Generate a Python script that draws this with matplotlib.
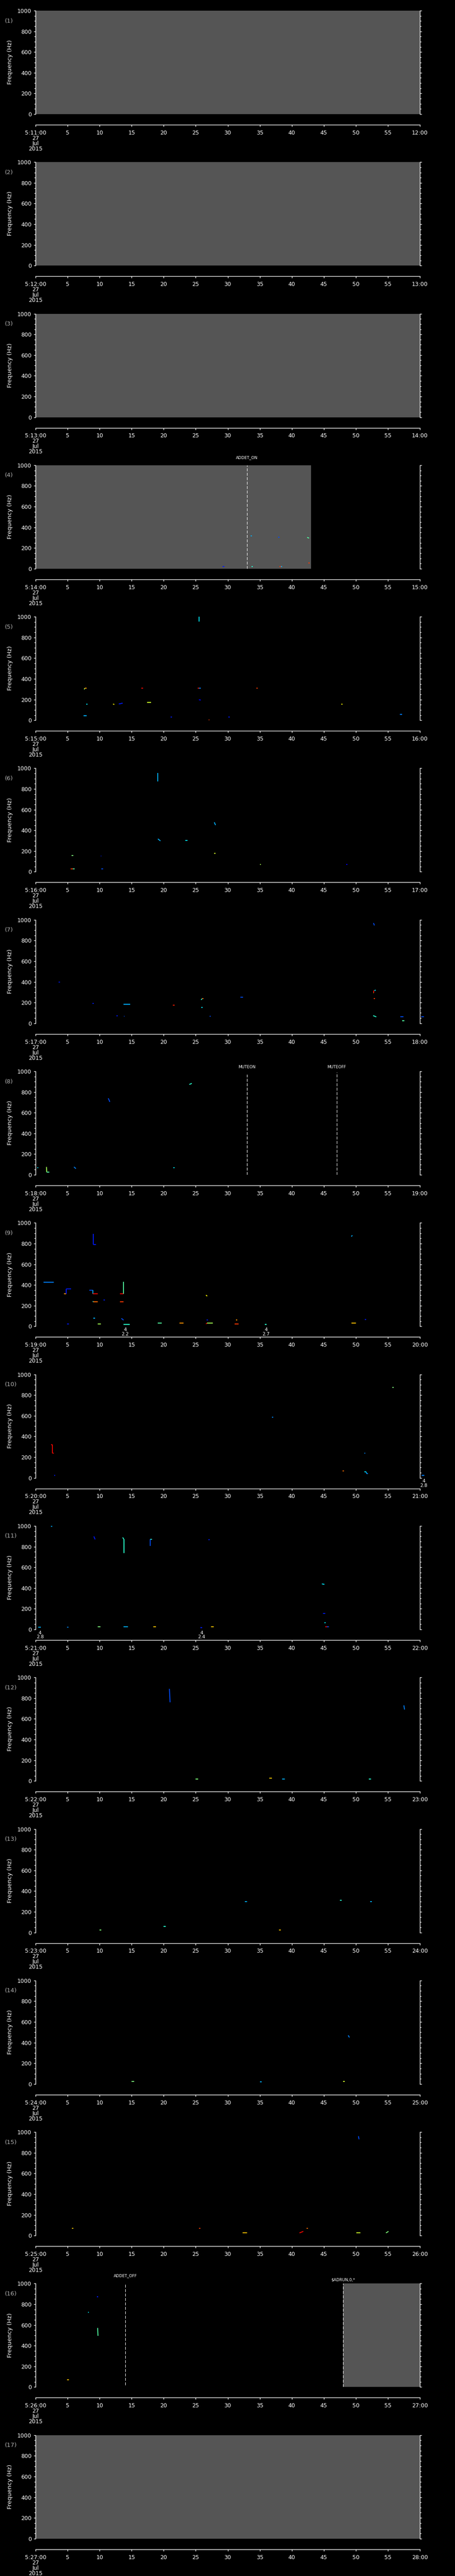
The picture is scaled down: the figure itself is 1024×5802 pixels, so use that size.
import matplotlib
matplotlib.use('Agg')
import matplotlib.pyplot as plt
from matplotlib.ticker import MultipleLocator
import numpy as np

plt.rcParams['font.family'] = ['DejaVu Sans']

# ---- data ----
n_panels = 17
start_minute = 11          # panel 1 starts at 5:11:00, one minute per panel
gray_color = '#555555'

# no-data (gray) intervals in seconds, per panel
gray_spans = {1: [(0, 60)], 2: [(0, 60)], 3: [(0, 60)], 4: [(0, 43)],
              16: [(48, 60)], 17: [(0, 60)]}

# event markers
event_panel = [4, 8, 8, 16, 16]
event_time = [33.0, 33.0, 47.0, 14.0, 48.0]
event_label = ['ADDET_ON', 'MUTEON', 'MUTEOFF', 'ADDET_OFF', '$ADRUN,0,*']
event_label_f = [1076, 1039, 1039, 1075, 1036]
event_line_top = [1000, 970, 990, 1000, 1000]
event_line_bot = [0, 0, 0, 20, 0]

# small numeric annotations below the plot
note_panel = [9, 9, 10, 11, 11]
note_time = [14.0, 36.0, 60.6, 0.7, 25.9]
note_text = ['4\n2.2', '4\n2.7', '4\n2.8', '4\n2.8', '4\n2.4']

# tracks: (t0, f0, t1, f1, colour value on jet)
tracks_04 = [(29.2, 23, 29.5, 23, 0.15), (33.6, 318, 33.8, 318, 0.3),
             (33.7, 23, 33.9, 23, 0.4), (37.9, 303, 38.1, 303, 0.2),
             (38.1, 23, 38.3, 23, 0.85), (38.3, 23, 38.5, 23, 0.3),
             (42.4, 303, 42.7, 295, 0.45), (42.6, 57, 42.8, 57, 0.85)]
tracks_05 = [(25.5, 1000, 25.5, 955, 0.35), (7.6, 298, 7.7, 310, 0.55),
             (7.7, 310, 8.0, 310, 0.75), (16.5, 310, 16.8, 310, 0.9),
             (25.3, 310, 25.5, 310, 0.88), (25.5, 310, 25.8, 310, 0.25),
             (34.5, 310, 34.7, 310, 0.85), (7.9, 157, 8.1, 157, 0.35),
             (12.1, 157, 12.3, 152, 0.65), (13.0, 157, 13.6, 165, 0.15),
             (17.4, 174, 18.0, 174, 0.6), (25.5, 198, 25.8, 195, 0.12),
             (47.7, 157, 47.9, 157, 0.65), (7.5, 42, 8.0, 42, 0.3),
             (21.1, 29, 21.3, 29, 0.15), (30.1, 29, 30.3, 29, 0.15),
             (27.0, 2, 27.2, 2, 0.85), (56.9, 57, 57.2, 57, 0.25)]
tracks_06 = [(19.1, 955, 19.1, 873, 0.3), (19.1, 318, 19.5, 298, 0.3),
             (23.4, 303, 23.7, 303, 0.35), (27.9, 478, 28.1, 451, 0.3),
             (27.9, 176, 28.1, 176, 0.6), (5.6, 155, 5.9, 155, 0.5),
             (10.2, 154, 10.3, 154, 0.15), (5.5, 27, 5.8, 27, 0.85),
             (5.8, 27, 6.1, 27, 0.45), (10.25, 27, 10.55, 27, 0.2),
             (35.0, 70, 35.2, 70, 0.55), (48.5, 70, 48.7, 70, 0.12)]
tracks_07 = [(3.6, 396, 3.8, 396, 0.15), (8.85, 194, 9.1, 194, 0.15),
             (13.75, 182, 14.8, 182, 0.3), (21.4, 177, 21.7, 177, 0.88),
             (25.85, 226, 26.0, 238, 0.4), (26.0, 238, 26.25, 238, 0.8),
             (25.9, 152, 26.1, 152, 0.35), (31.95, 253, 32.4, 253, 0.2),
             (12.6, 74, 12.8, 74, 0.15), (13.8, 66, 13.9, 66, 0.2),
             (27.2, 66, 27.35, 66, 0.2), (52.75, 969, 52.9, 946, 0.2),
             (52.7, 295, 52.8, 295, 0.65), (52.8, 295, 52.8, 315, 0.9),
             (52.9, 315, 53.1, 322, 0.35), (52.8, 238, 53.0, 238, 0.85),
             (52.7, 74, 53.2, 62, 0.4), (56.95, 62, 57.45, 62, 0.2),
             (57.2, 23, 57.6, 23, 0.45), (60.2, 62, 60.6, 62, 0.2)]
tracks_08 = [(0.3, 69, 0.45, 69, 0.35), (1.7, 76, 1.75, 26, 0.55),
             (1.75, 26, 2.15, 26, 0.45), (6.0, 76, 6.3, 60, 0.25),
             (11.35, 740, 11.6, 705, 0.2), (21.5, 69, 21.7, 69, 0.35),
             (24.0, 873, 24.4, 884, 0.4)]
tracks_09 = [(1.25, 425, 2.85, 425, 0.25), (4.45, 313, 4.8, 313, 0.75),
             (4.8, 313, 4.8, 364, 0.15), (4.8, 364, 5.55, 364, 0.15),
             (8.4, 350, 8.95, 350, 0.2), (8.95, 350, 8.95, 313, 0.3),
             (8.95, 313, 9.7, 313, 0.9), (8.95, 243, 9.0, 236, 0.4),
             (9.0, 236, 9.7, 236, 0.8), (9.0, 894, 9.0, 790, 0.15),
             (9.0, 790, 9.4, 790, 0.15), (10.6, 255, 10.8, 255, 0.15),
             (13.16, 236, 13.75, 236, 0.85), (13.16, 313, 13.75, 313, 0.9),
             (13.75, 313, 13.75, 432, 0.45), (9.0, 77, 9.3, 77, 0.3),
             (13.4, 77, 13.75, 60, 0.2), (4.9, 24, 5.2, 24, 0.15),
             (9.7, 24, 10.2, 24, 0.55), (13.7, 20, 14.7, 20, 0.4),
             (19.1, 31, 19.7, 31, 0.45), (22.5, 31, 23.1, 31, 0.75),
             (26.6, 24, 26.8, 31, 0.9), (26.8, 31, 27.7, 31, 0.55),
             (26.6, 302, 26.8, 292, 0.65), (26.7, 60, 26.9, 60, 0.15),
             (31.1, 24, 31.7, 24, 0.85), (31.3, 60, 31.5, 60, 0.75),
             (35.8, 20, 36.1, 20, 0.4), (49.3, 31, 50.0, 31, 0.7),
             (49.3, 868, 49.45, 880, 0.3), (51.4, 68, 51.6, 68, 0.15)]
tracks_10 = [(2.4, 319, 2.65, 319, 0.9), (2.65, 319, 2.65, 237, 0.9),
             (2.65, 237, 2.85, 237, 0.9), (2.9, 23, 3.05, 23, 0.15),
             (36.9, 588, 37.1, 588, 0.25), (47.95, 66, 48.15, 66, 0.8),
             (51.3, 58, 51.6, 58, 0.35), (51.6, 58, 51.7, 41, 0.3),
             (51.7, 41, 51.9, 41, 0.25), (51.3, 237, 51.5, 237, 0.25),
             (55.7, 872, 55.9, 872, 0.5), (60.3, 23, 60.7, 23, 0.25)]
tracks_11 = [(2.4, 998, 2.6, 995, 0.3), (9.1, 899, 9.3, 870, 0.15),
             (13.6, 889, 13.8, 870, 0.4), (13.8, 870, 13.8, 738, 0.4),
             (17.9, 870, 18.2, 870, 0.4), (17.9, 870, 17.9, 805, 0.2),
             (27.0, 868, 27.2, 868, 0.15), (44.7, 440, 45.1, 435, 0.35),
             (44.9, 156, 45.2, 156, 0.15), (45.1, 62, 45.3, 62, 0.35),
             (45.2, 24, 45.5, 24, 0.9), (45.5, 24, 45.8, 24, 0.2),
             (0.4, 20, 0.8, 20, 0.3), (4.9, 20, 5.1, 20, 0.25),
             (9.7, 24, 10.1, 24, 0.5), (13.7, 24, 14.4, 24, 0.3),
             (18.4, 24, 18.8, 24, 0.7), (25.7, 15, 26.0, 15, 0.15),
             (27.4, 24, 27.8, 24, 0.7)]
tracks_12 = [(20.9, 890, 21.0, 760, 0.2), (57.5, 730, 57.6, 690, 0.25),
             (25.0, 20, 25.4, 20, 0.5), (36.5, 25, 36.9, 25, 0.7),
             (38.5, 20, 38.9, 20, 0.3), (52.0, 20, 52.4, 20, 0.4)]
tracks_13 = [(32.7, 300, 33.0, 300, 0.3), (47.5, 310, 47.8, 310, 0.4),
             (52.2, 300, 52.5, 300, 0.3), (10.0, 25, 10.3, 25, 0.5),
             (20.0, 60, 20.3, 60, 0.4), (38.0, 25, 38.3, 25, 0.7)]
tracks_14 = [(48.8, 470, 49.0, 450, 0.25), (15.0, 25, 15.4, 25, 0.5),
             (35.0, 20, 35.3, 20, 0.3), (48.0, 25, 48.3, 25, 0.6)]
tracks_15 = [(5.7, 68, 5.9, 68, 0.7), (25.5, 68, 25.7, 68, 0.85),
             (32.3, 25, 33.0, 25, 0.7), (41.2, 25, 41.8, 40, 0.9),
             (42.3, 68, 42.5, 68, 0.8), (50.1, 25, 50.7, 25, 0.6),
             (54.7, 25, 55.1, 40, 0.5), (50.4, 960, 50.5, 930, 0.2)]
tracks_16 = [(9.6, 872, 9.8, 872, 0.15), (8.2, 722, 8.35, 722, 0.35),
             (9.7, 571, 9.75, 495, 0.45), (4.95, 69, 5.2, 69, 0.7)]

tracks = {4: tracks_04, 5: tracks_05, 6: tracks_06, 7: tracks_07,
          8: tracks_08, 9: tracks_09, 10: tracks_10, 11: tracks_11,
          12: tracks_12, 13: tracks_13, 14: tracks_14, 15: tracks_15,
          16: tracks_16}

# ---- layout (pixels) ----
W, H = 1024, 5802
panel_h = H / n_panels
plot_top, plot_h = 24, 233
plot_left, plot_w = 80, 865

fig = plt.figure(figsize=(W / 100, H / 100), dpi=100, facecolor='black')
cmap = plt.get_cmap('jet')

for k in range(n_panels):
    p = k + 1
    top = k * panel_h + plot_top
    ax = fig.add_axes([plot_left / W, 1 - (top + plot_h) / H, plot_w / W, plot_h / H])
    ax.set_facecolor('black')
    ax.set_xlim(0, 60)
    ax.set_ylim(0, 1000)

    for t0, t1 in gray_spans.get(p, []):
        ax.axvspan(t0, t1, color=gray_color, lw=0, zorder=0)

    for t0, f0, t1, f1, c in tracks.get(p, []):
        ax.plot([t0, t1], [f0, f1], color=cmap(c), lw=1.4,
                solid_capstyle='butt', zorder=2, clip_on=(t1 <= 60))

    for ep, et, el, ef, etop, ebot in zip(event_panel, event_time, event_label,
                                           event_label_f, event_line_top, event_line_bot):
        if ep != p:
            continue
        ax.plot([et, et], [ebot, etop], color='white', lw=0.8,
                dashes=(6, 3), zorder=3)
        ax.text(et, ef, el, color='white', fontsize=6.5, ha='center',
                va='center', clip_on=False)

    for npn, nt, ntx in zip(note_panel, note_time, note_text):
        if npn == p:
            ax.text(nt, -12, ntx, color='white', fontsize=7.5, ha='center',
                    va='top', linespacing=0.95, clip_on=False)

    # spines
    ax.spines['top'].set_visible(False)
    for s in ['left', 'right', 'bottom']:
        ax.spines[s].set_color('white')
        ax.spines[s].set_linewidth(1.0)
    ax.spines['bottom'].set_position(('outward', 17.3))

    ax.yaxis.set_major_locator(MultipleLocator(200))
    ax.yaxis.set_minor_locator(MultipleLocator(50))
    ax.tick_params(axis='y', which='both', left=True, right=True, direction='out',
                   colors='white', labelsize=9, pad=3.6, width=1.0)
    ax.tick_params(axis='y', which='major', length=3)
    ax.tick_params(axis='y', which='minor', length=2)

    minute = start_minute + k
    xt = np.arange(0, 61, 5)
    xl = ['5:%02d:00\n27\nJul\n2015' % minute] + [str(v) for v in xt[1:-1]] + ['%02d:00' % (minute + 1)]
    ax.set_xticks(xt)
    ax.set_xticklabels(xl, linespacing=0.9)
    ax.tick_params(axis='x', direction='out', length=3, width=1.0,
                   colors='white', labelsize=9, pad=5.5)

    fig.text(23 / W, 1 - (k * panel_h + 140) / H, 'Frequency (Hz)', rotation=90,
             color='white', fontsize=9.5, ha='center', va='center')
    fig.text(11 / W, 1 - (k * panel_h + 47) / H, '(%d)' % p, color='#b0b0b0',
             fontsize=9.5, ha='left', va='center')

fig.savefig('out.png', dpi=100, facecolor='black')
